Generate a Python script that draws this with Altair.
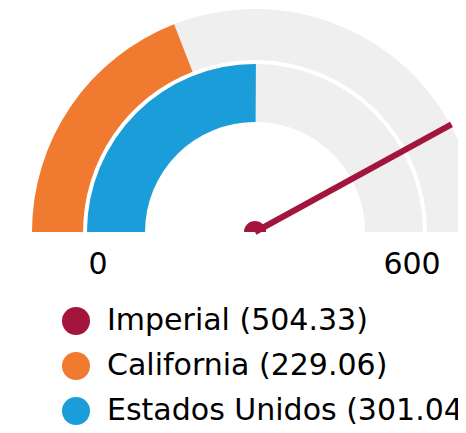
import math
import altair as alt
import pandas as pd

# ---- data ----
series = ["Imperial", "California", "Estados Unidos"]
values = [504.33, 229.06, 301.04]
colors = ["#A3153D", "#F07A30", "#1B9DD9"]
tick_values = [0, 600]
gauge_min = 0
gauge_max = 600

labels = [f"{s} ({v:.2f})" for s, v in zip(series, values)]
df = pd.DataFrame({"series": series, "value": values, "label": labels,
                   "start": [gauge_min] * len(series)})
range_df = pd.DataFrame({"lo": [gauge_min], "hi": [gauge_max]})
ticks_df = pd.DataFrame({"tick": tick_values})

FONT = "DejaVu Sans"
CX, CY = 247, 224
GREY = "#EFEFEF"

theta_scale = alt.Scale(domain=[gauge_min, gauge_max], range=[-math.pi / 2, math.pi / 2])
color_scale = alt.Scale(domain=labels, range=colors)

def T(field):
    return alt.Theta(f"{field}:Q", scale=theta_scale, stack=False)

def T2(field):
    return alt.Theta2(f"{field}:Q")

center = dict(x=alt.value(CX), y=alt.value(CY))

bg_outer = alt.Chart(range_df).mark_arc(color=GREY).encode(
    theta=T("lo"), theta2=T2("hi"), radius=alt.value(223), radius2=alt.value(172), **center)
bg_inner = alt.Chart(range_df).mark_arc(color=GREY).encode(
    theta=T("lo"), theta2=T2("hi"), radius=alt.value(168), radius2=alt.value(110), **center)

legend = alt.Legend(title=None, orient="none", legendX=53, legendY=298,
                    symbolType="circle", symbolSize=784, symbolStrokeWidth=0,
                    labelFont=FONT, labelFontSize=30, labelColor="#000000",
                    labelOffset=16, labelLimit=0, rowPadding=15, padding=0)

cal = alt.Chart(df).transform_filter(alt.datum.series == "California").mark_arc().encode(
    theta=T("start"), theta2=T2("value"), radius=alt.value(223), radius2=alt.value(172),
    color=alt.Color("label:N", scale=color_scale, legend=legend), **center)
usa = alt.Chart(df).transform_filter(alt.datum.series == "Estados Unidos").mark_arc().encode(
    theta=T("start"), theta2=T2("value"), radius=alt.value(168), radius2=alt.value(110),
    color=alt.Color("label:N", scale=color_scale, legend=legend), **center)

needle = alt.Chart(df).transform_filter(alt.datum.series == "Imperial").mark_arc(
    filled=False, stroke=colors[0], strokeWidth=6, strokeCap="butt", strokeJoin="miter").encode(
    theta=T("value"), theta2=T2("value"), radius=alt.value(224), radius2=alt.value(0), **center)

hub = alt.Chart(df).transform_filter(alt.datum.series == "Imperial").mark_arc(color=colors[0]).encode(
    theta=alt.value(-math.pi / 2), theta2=alt.value(math.pi / 2), radius=alt.value(11), **center)

tick_text = alt.Chart(ticks_df).mark_text(font=FONT, fontSize=30, color="#000000", dy=33,
                                           align="center", baseline="middle").encode(
    theta=T("tick"), radius=alt.value(157), text=alt.Text("tick:Q"), **center)

chart = alt.layer(bg_outer, bg_inner, cal, usa, needle, hub, tick_text).properties(
    width=450, height=417, autosize=alt.AutoSizeParams(type="none"), padding=0
).configure_view(stroke=None)

chart.save("out.html", embed_options={"renderer": "svg", "actions": False})
